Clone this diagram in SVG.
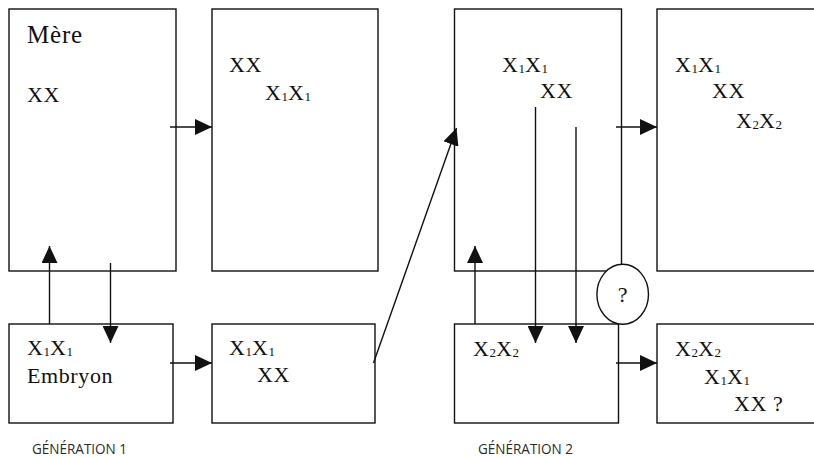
<svg xmlns="http://www.w3.org/2000/svg" width="814" height="457" viewBox="0 0 814 457">
<style>
.box{fill:none;stroke:#111;stroke-width:1.4}
.ln{fill:none;stroke:#111;stroke-width:1.4}
.t{font-family:"Liberation Serif","Times New Roman",serif;font-size:22px;fill:#111;letter-spacing:0.6px}
.big{font-size:25px;letter-spacing:0.8px}
.s{font-size:13px;letter-spacing:0}
.gen{font-family:"Open Sans","Liberation Sans",sans-serif;font-size:15px;fill:#2a2a2a}
</style>
<defs>
<marker id="ah" markerUnits="userSpaceOnUse" markerWidth="17" markerHeight="16" refX="17" refY="8" orient="auto">
<path d="M0,0 L17,8 L0,16 z" fill="#111"/>
</marker>
</defs>
<rect width="814" height="457" fill="#fff"/>

<g id="mere">
<rect class="box" x="9" y="9" width="167" height="262"/>
<text class="t big" x="27" y="43">Mère</text>
<text class="t" x="27" y="102">XX</text>
</g>
<g id="gen1-top-right">
<rect class="box" x="212" y="9" width="166" height="262"/>
<text class="t" x="229" y="72">XX</text>
<text class="t" x="265" y="100">X<tspan class="s" dy="1">1</tspan><tspan dy="-1">X</tspan><tspan class="s" dy="1">1</tspan></text>
</g>
<g id="embryon">
<rect class="box" x="9" y="324" width="164" height="99"/>
<text class="t" x="27" y="355">X<tspan class="s" dy="1">1</tspan><tspan dy="-1">X</tspan><tspan class="s" dy="1">1</tspan></text>
<text class="t" x="27" y="383">Embryon</text>
</g>
<g id="gen1-bottom-right">
<rect class="box" x="212" y="324" width="163" height="99"/>
<text class="t" x="229" y="355">X<tspan class="s" dy="1">1</tspan><tspan dy="-1">X</tspan><tspan class="s" dy="1">1</tspan></text>
<text class="t" x="257" y="382">XX</text>
</g>
<g id="gen2-top-left">
<rect class="box" x="454.5" y="9" width="167" height="262"/>
<text class="t" x="502" y="72">X<tspan class="s" dy="1">1</tspan><tspan dy="-1">X</tspan><tspan class="s" dy="1">1</tspan></text>
<text class="t" x="540" y="98">XX</text>
</g>
<g id="gen2-top-right">
<rect class="box" x="657" y="9" width="170" height="262"/>
<text class="t" x="675" y="72">X<tspan class="s" dy="1">1</tspan><tspan dy="-1">X</tspan><tspan class="s" dy="1">1</tspan></text>
<text class="t" x="712" y="98">XX</text>
<text class="t" x="736" y="128">X<tspan class="s" dy="1">2</tspan><tspan dy="-1">X</tspan><tspan class="s" dy="1">2</tspan></text>
</g>
<g id="gen2-bottom-left">
<rect class="box" x="454.5" y="324" width="164" height="99"/>
<text class="t" x="473" y="356">X<tspan class="s" dy="1">2</tspan><tspan dy="-1">X</tspan><tspan class="s" dy="1">2</tspan></text>
</g>
<g id="gen2-bottom-right">
<rect class="box" x="657" y="324" width="170" height="99"/>
<text class="t" x="675" y="356">X<tspan class="s" dy="1">2</tspan><tspan dy="-1">X</tspan><tspan class="s" dy="1">2</tspan></text>
<text class="t" x="704" y="384">X<tspan class="s" dy="1">1</tspan><tspan dy="-1">X</tspan><tspan class="s" dy="1">1</tspan></text>
<text class="t" x="734" y="411">XX ?</text>
</g>

<g id="connectors">
<line class="ln" x1="170" y1="127" x2="212" y2="127" marker-end="url(#ah)"/>
<line class="ln" x1="49.5" y1="324" x2="49.5" y2="246" marker-end="url(#ah)"/>
<line class="ln" x1="110.5" y1="263" x2="110.5" y2="343" marker-end="url(#ah)"/>
<line class="ln" x1="170" y1="363" x2="212" y2="363" marker-end="url(#ah)"/>
<line class="ln" x1="373.5" y1="363" x2="456.5" y2="128" marker-end="url(#ah)"/>
<line class="ln" x1="616" y1="127" x2="657" y2="127" marker-end="url(#ah)"/>
<line class="ln" x1="475" y1="324" x2="475" y2="246" marker-end="url(#ah)"/>
<line class="ln" x1="535.5" y1="107" x2="535.5" y2="343" marker-end="url(#ah)"/>
<line class="ln" x1="576" y1="127" x2="576" y2="343" marker-end="url(#ah)"/>
<line class="ln" x1="616" y1="363" x2="657" y2="363" marker-end="url(#ah)"/>
</g>

<g id="question">
<ellipse cx="622.7" cy="294.3" rx="25.8" ry="30" fill="#fff" stroke="#111" stroke-width="1.4"/>
<text class="t" x="622.7" y="302" text-anchor="middle" style="letter-spacing:0">?</text>
</g>

<text class="gen" x="32" y="454" textLength="95" lengthAdjust="spacingAndGlyphs">GÉNÉRATION 1</text>
<text class="gen" x="478" y="454" textLength="95" lengthAdjust="spacingAndGlyphs">GÉNÉRATION 2</text>
</svg>
